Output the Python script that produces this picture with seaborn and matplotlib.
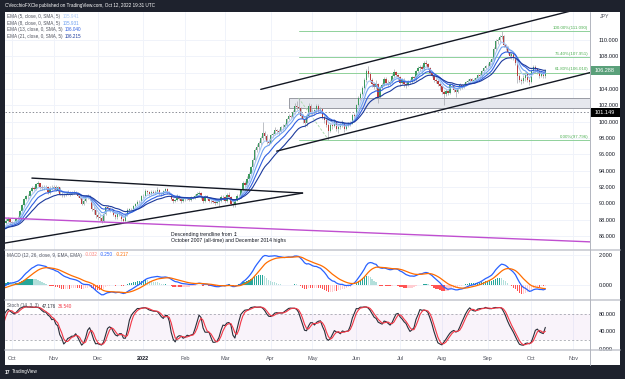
import numpy as np
import pandas as pd
import matplotlib
matplotlib.use("Agg")
import matplotlib.pyplot as plt
import matplotlib.transforms as mtransforms
from matplotlib.patches import Rectangle
from matplotlib.lines import Line2D
import seaborn as sns

# CAD/JPY daily bars (Sep 2021 is only there to warm up the indicators)
close_2021_09 = [87.35, 87.40, 87.55, 87.50, 87.05, 86.95, 86.70, 86.90, 87.00, 86.60, 86.60, 86.75, 86.45, 85.55, 85.70, 86.40, 86.95, 87.20, 87.65, 87.85, 88.05, 87.75]
high_2021_09 = [87.6, 87.6, 87.8, 87.7, 87.8, 87.2, 87.1, 87.2, 87.2, 87.2, 86.9, 87.0, 86.9, 86.5, 86.0, 86.6, 87.1, 87.4, 87.8, 88.2, 88.3, 88.2]
low_2021_09 = [87.0, 87.1, 87.2, 87.4, 86.9, 86.6, 86.5, 86.6, 86.7, 86.4, 86.3, 86.4, 86.3, 85.3, 85.4, 85.5, 86.2, 86.8, 87.1, 87.5, 87.7, 87.5]

close_2021_10 = [87.60, 87.75, 88.05, 88.25, 89.05, 89.75, 90.55, 90.85, 90.95, 91.55, 91.90, 91.80, 92.35, 92.45, 91.95, 91.85, 91.95, 92.05, 91.35, 91.90, 91.85]
high_2021_10 = [87.9, 87.9, 88.2, 88.5, 89.2, 89.9, 90.7, 91.0, 91.2, 91.7, 92.1, 92.1, 92.5, 92.7, 92.5, 92.2, 92.2, 92.3, 92.1, 92.1, 92.2]
low_2021_10 = [87.4, 87.3, 87.6, 87.9, 88.2, 89.0, 89.6, 90.4, 90.6, 90.9, 91.4, 91.6, 91.7, 92.1, 91.8, 91.6, 91.6, 91.8, 91.2, 91.2, 91.7]

close_2021_11 = [92.05, 91.60, 91.95, 91.15, 91.05, 91.00, 91.20, 91.35, 91.05, 91.30, 91.35, 91.30, 90.95, 90.65, 89.95, 90.35, 90.80, 90.85, 90.55, 89.30, 89.15, 88.55]
high_2021_11 = [92.3, 92.2, 92.1, 92.0, 91.5, 91.3, 91.4, 91.6, 91.5, 91.5, 91.6, 91.5, 91.4, 91.1, 90.8, 90.5, 91.0, 91.1, 91.0, 90.7, 89.8, 89.5]
low_2021_11 = [91.7, 91.5, 91.4, 91.0, 90.8, 90.8, 90.9, 91.0, 90.9, 91.0, 91.1, 91.1, 90.8, 90.5, 89.8, 89.8, 90.2, 90.6, 90.4, 89.1, 88.7, 88.2]

close_2021_12 = [88.35, 88.25, 87.85, 88.75, 89.55, 89.50, 89.05, 89.25, 88.55, 88.30, 88.85, 88.55, 88.05, 87.80, 88.55, 89.25, 89.35, 89.30, 89.65, 89.95, 90.15, 90.20, 90.90]
high_2021_12 = [89.0, 88.7, 88.5, 88.9, 89.7, 89.8, 89.6, 89.4, 89.3, 88.7, 89.0, 89.1, 88.6, 88.2, 88.7, 89.4, 89.5, 89.5, 89.8, 90.1, 90.4, 90.4, 91.0]
low_2021_12 = [88.0, 87.9, 87.6, 87.7, 88.6, 89.2, 88.9, 88.9, 88.4, 88.1, 88.1, 88.4, 87.9, 87.6, 87.7, 88.4, 89.1, 89.2, 89.2, 89.6, 89.8, 90.0, 90.1]

close_2022_01 = [90.95, 91.55, 91.35, 91.15, 91.40, 91.30, 91.35, 91.70, 91.10, 91.15, 91.50, 91.75, 91.35, 91.20, 90.55, 90.35, 90.40, 90.85, 90.55, 90.35, 90.55]
high_2022_01 = [91.2, 91.8, 91.7, 91.5, 91.6, 91.6, 91.6, 92.0, 91.8, 91.4, 91.6, 91.9, 91.9, 91.5, 91.3, 90.7, 90.6, 91.1, 91.0, 90.7, 90.7]
low_2022_01 = [90.7, 90.8, 91.2, 90.9, 91.0, 91.1, 91.1, 91.3, 91.0, 90.9, 91.0, 91.4, 91.2, 91.1, 90.4, 90.0, 90.2, 90.3, 90.4, 90.1, 90.2]

close_2022_02 = [90.65, 90.60, 90.45, 90.75, 90.70, 90.95, 91.20, 91.25, 90.75, 90.30, 90.85, 90.75, 90.30, 90.25, 90.20, 90.05, 90.20, 90.35, 90.80, 90.75]
high_2022_02 = [90.8, 90.8, 90.8, 90.9, 90.9, 91.1, 91.4, 91.5, 91.4, 90.8, 91.0, 91.0, 90.8, 90.5, 90.4, 90.5, 90.4, 90.6, 91.0, 91.0]
low_2022_02 = [90.3, 90.4, 90.3, 90.3, 90.5, 90.6, 90.8, 91.0, 90.6, 90.1, 90.2, 90.6, 90.2, 90.0, 90.0, 89.8, 89.9, 89.6, 90.2, 90.4]

close_2022_03 = [90.30, 91.05, 90.75, 89.95, 89.75, 90.35, 90.95, 90.85, 91.60, 92.55, 92.25, 93.05, 93.65, 94.45, 95.35, 96.55, 96.85, 97.35, 97.95, 98.65, 98.20, 97.55, 97.45]
high_2022_03 = [90.9, 91.3, 91.4, 90.9, 90.4, 90.6, 91.2, 91.2, 91.8, 92.8, 92.8, 93.3, 93.9, 94.6, 95.6, 96.8, 97.3, 97.6, 98.2, 100.0, 98.9, 98.5, 97.9]
low_2022_03 = [90.1, 90.2, 90.6, 89.8, 89.55, 89.6, 90.3, 90.6, 90.7, 91.5, 92.0, 92.1, 92.8, 93.5, 94.2, 95.1, 96.3, 96.6, 97.1, 97.8, 97.9, 97.3, 97.1]

close_2022_04 = [98.35, 98.55, 98.95, 98.85, 98.80, 99.30, 99.35, 99.65, 100.35, 100.65, 100.60, 101.15, 101.95, 101.75, 101.65, 100.75, 100.35, 99.85, 100.75, 101.95, 101.25]
high_2022_04 = [98.5, 98.8, 99.3, 99.1, 99.1, 99.5, 99.7, 99.9, 100.5, 100.9, 100.8, 101.4, 102.3, 102.5, 102.9, 101.8, 100.9, 100.6, 100.9, 102.3, 102.2]
low_2022_04 = [97.4, 98.1, 98.4, 98.5, 98.4, 98.7, 99.0, 99.2, 99.5, 100.2, 100.4, 100.5, 101.0, 101.4, 101.4, 100.5, 99.9, 99.3, 99.5, 100.6, 100.9]

close_2022_05 = [101.05, 101.45, 101.95, 101.35, 101.55, 100.55, 100.25, 99.55, 98.85, 99.55, 99.45, 100.05, 99.05, 99.35, 99.55, 99.90, 99.15, 99.45, 99.85, 99.70, 100.85, 100.65]
high_2022_05 = [101.6, 101.6, 102.2, 102.2, 101.8, 101.7, 100.8, 100.5, 99.8, 99.8, 99.9, 100.3, 100.1, 99.6, 99.9, 100.2, 99.9, 99.6, 100.0, 100.1, 101.0, 101.1]
low_2022_05 = [100.8, 100.8, 101.2, 101.1, 101.1, 100.3, 99.9, 99.3, 97.8, 98.8, 99.1, 99.3, 98.9, 98.6, 99.1, 99.4, 98.8, 99.0, 99.3, 99.5, 99.7, 100.4]

close_2022_06 = [102.05, 102.85, 103.45, 104.15, 105.05, 106.25, 105.85, 105.15, 104.65, 104.25, 104.65, 103.05, 104.15, 104.55, 105.25, 104.75, 104.65, 104.85, 105.55, 106.05, 105.75, 105.45]
high_2022_06 = [102.2, 103.1, 103.6, 104.4, 105.3, 106.5, 106.8, 106.1, 105.3, 104.9, 105.1, 104.8, 104.4, 104.8, 105.5, 105.5, 105.1, 105.1, 105.8, 106.4, 106.2, 105.9]
low_2022_06 = [100.5, 101.9, 102.7, 103.3, 104.0, 104.9, 105.5, 104.9, 104.2, 104.0, 104.0, 102.3, 102.9, 104.0, 104.4, 104.5, 104.3, 104.5, 104.7, 105.4, 105.5, 105.0]

close_2022_07 = [104.75, 105.15, 104.65, 104.55, 104.95, 104.85, 105.45, 105.35, 106.15, 106.55, 106.65, 106.45, 107.15, 107.05, 106.55, 105.95, 105.65, 105.05, 104.95, 104.65, 104.35]
high_2022_07 = [105.6, 105.3, 105.4, 104.9, 105.1, 105.2, 105.6, 105.6, 106.3, 106.8, 106.9, 106.9, 107.4, 107.5, 107.2, 106.7, 106.1, 105.8, 105.3, 105.2, 104.9]
low_2022_07 = [104.4, 104.6, 104.2, 104.1, 104.4, 104.6, 104.7, 105.0, 105.0, 105.8, 106.2, 106.2, 106.3, 106.8, 106.4, 105.8, 105.5, 104.9, 104.7, 104.4, 103.9]

close_2022_08 = [103.65, 103.45, 103.75, 103.55, 104.55, 104.45, 103.85, 103.65, 104.05, 104.45, 104.25, 104.55, 104.85, 104.95, 105.25, 104.95, 105.05, 105.35, 105.75, 105.65, 106.15, 106.55, 106.85]
high_2022_08 = [104.5, 103.9, 104.0, 103.9, 104.7, 104.8, 104.6, 104.0, 104.3, 104.7, 104.6, 104.7, 105.0, 105.2, 105.4, 105.3, 105.3, 105.5, 105.9, 106.0, 106.3, 106.7, 107.0]
low_2022_08 = [103.4, 102.0, 103.2, 103.3, 103.4, 104.2, 103.6, 103.0, 103.5, 103.9, 104.0, 104.1, 104.4, 104.7, 104.8, 104.7, 104.8, 104.9, 105.2, 105.3, 105.4, 106.0, 106.4]

close_2022_09 = [106.85, 107.25, 107.65, 108.85, 109.85, 109.95, 110.35, 110.55, 109.35, 109.15, 108.55, 108.05, 108.35, 107.85, 107.15, 105.55, 105.15, 104.95, 105.35, 105.85, 105.15, 104.85]
high_2022_09 = [107.2, 107.5, 107.8, 109.1, 110.1, 110.3, 110.6, 111.09, 110.6, 109.5, 109.3, 108.6, 108.5, 108.5, 107.9, 107.4, 105.9, 105.4, 105.7, 106.1, 106.0, 105.5]
low_2022_09 = [106.4, 106.7, 107.1, 107.5, 108.7, 109.5, 109.7, 110.1, 109.1, 108.8, 108.3, 107.8, 107.7, 107.6, 107.0, 104.7, 104.9, 104.6, 104.7, 105.0, 104.9, 104.5]

close_2022_10 = [106.15, 106.75, 106.45, 106.15, 105.65, 105.85, 105.55, 106.29]
high_2022_10 = [106.4, 107.0, 107.0, 106.6, 106.3, 106.2, 106.1, 106.5]
low_2022_10 = [104.7, 105.9, 106.0, 105.8, 105.4, 105.5, 105.3, 105.4]

first_open = 87.20
warmup_bars = 22          # September 2021 bars, left of the visible window

ema_periods = [5, 8, 13, 21]
ema_colors = ["#a9c8f5", "#6d9ff0", "#2f5fe0", "#1c3a9c"]
ema_labels = ["EMA (5, close, 0, SMA, 5)", "EMA (8, close, 0, SMA, 5)",
              "EMA (13, close, 0, SMA, 5)", "EMA (21, close, 0, SMA, 5)"]
ema_values = ["105.941", "105.931", "106.040", "106.215"]
macd_values = ["-0.032", "-0.250", "-0.217"]
stoch_values = ["47.176", "36.540"]

fib_pct = ["100.00%", "76.40%", "61.80%", "0.00%"]
fib_price = [111.090, 107.951, 106.010, 97.796]
fib_start = "2022-04-21"
fib_leg = [("2022-04-21", 102.9), ("2022-05-12", 97.8)]

triangle_top = [("2021-10-15", 93.10), ("2022-04-25", 91.27)]
triangle_bottom = [("2021-09-24", 85.09), ("2022-04-25", 91.27)]
descending_line = [("2021-09-24", 88.23), ("2022-11-18", 85.25)]
channel_top = [("2022-03-25", 103.96), ("2022-11-18", 114.43)]
channel_bottom = [("2022-04-06", 96.40), ("2022-11-18", 106.29)]
zone = ("2022-04-14", 101.70, 102.93)
key_level = 101.149
last_price = 106.288

month_labels = ["Oct", "Nov", "Dec", "2022", "Feb", "Mar", "Apr", "May",
                "Jun", "Jul", "Aug", "Sep", "Oct", "Nov"]

# ---- assemble bars ----
closes = np.array(close_2021_09 + close_2021_10 + close_2021_11 + close_2021_12 + close_2022_01
                  + close_2022_02 + close_2022_03 + close_2022_04 + close_2022_05 + close_2022_06
                  + close_2022_07 + close_2022_08 + close_2022_09 + close_2022_10)
highs = np.array(high_2021_09 + high_2021_10 + high_2021_11 + high_2021_12 + high_2022_01
                 + high_2022_02 + high_2022_03 + high_2022_04 + high_2022_05 + high_2022_06
                 + high_2022_07 + high_2022_08 + high_2022_09 + high_2022_10)
lows = np.array(low_2021_09 + low_2021_10 + low_2021_11 + low_2021_12 + low_2022_01
                + low_2022_02 + low_2022_03 + low_2022_04 + low_2022_05 + low_2022_06
                + low_2022_07 + low_2022_08 + low_2022_09 + low_2022_10)
opens = np.concatenate([[first_open], closes[:-1]])

days = pd.bdate_range("2021-09-01", "2022-11-30")
df = pd.DataFrame({"open": opens, "high": highs, "low": lows, "close": closes},
                  index=days[:len(closes)])
df["pos"] = np.arange(len(df)) - warmup_bars


def pos_of(day):
    return days.get_indexer([pd.Timestamp(day)])[0] - warmup_bars


for n in ema_periods:
    df[f"ema{n}"] = df["close"].ewm(span=n, adjust=False).mean()
macd = df["close"].ewm(span=12, adjust=False).mean() - df["close"].ewm(span=26, adjust=False).mean()
signal = macd.ewm(span=9, adjust=False).mean()
df["macd"], df["signal"], df["hist"] = macd, signal, macd - signal
hh = df["high"].rolling(14, min_periods=1).max()
ll = df["low"].rolling(14, min_periods=1).min()
df["k"] = (100 * (df["close"] - ll) / (hh - ll)).rolling(3, min_periods=1).mean()
df["d"] = df["k"].rolling(3, min_periods=1).mean()

vis = df[df["pos"] >= -5]

# ---- figure ----
sns.set_style("white")
plt.rcParams["font.family"] = ["Liberation Sans", "DejaVu Sans"]
W, H = 625, 379
fig = plt.figure(figsize=(W / 100, H / 100), dpi=100)
fig.patch.set_facecolor("#1e222d")
fig.add_artist(Rectangle((5 / W, 1 - 365 / H), 615 / W, 353 / H, transform=fig.transFigure,
                         facecolor="white", edgecolor="none", zorder=-10))


def panel(top, bottom):
    return fig.add_axes([5 / W, 1 - bottom / H, 585 / W, (bottom - top) / H])


ax_p = panel(12, 249.5)
ax_m = panel(250.5, 299.5)
ax_s = panel(300.5, 350)
xlim = (-3.52, 290.45)
month_pos = [days.get_indexer([d])[0] - warmup_bars
             for d in pd.date_range("2021-10-01", "2022-11-01", freq="MS").map(lambda m: days[days >= m][0])]

for ax in (ax_p, ax_m, ax_s):
    ax.set_facecolor("none")
    ax.set_xlim(*xlim)
    for s in ax.spines.values():
        s.set_visible(False)
    for mp in month_pos:
        ax.axvline(mp, color="#f0f3fa", lw=0.7, zorder=0)
    ax.yaxis.tick_right()
    ax.tick_params(axis="y", length=0, pad=6, labelsize=4, labelcolor="#131722")
    ax.tick_params(axis="x", length=0, labelbottom=False)
    ax.set_xlabel("")
    ax.set_ylabel("")

# price panel
ax_p.set_ylim(84.36, 113.43)
price_ticks = list(range(86, 111, 2))
for t in price_ticks:
    ax_p.axhline(t, color="#f0f3fa", lw=0.7, zorder=0)
ax_p.set_yticks(price_ticks)
# the 106 label sits under the last-price box, as on the reference
ax_p.set_yticklabels(["" if t == 106 else f"{t:.3f}" for t in price_ticks])

x_right = xlim[1]
ax_p.add_patch(Rectangle((pos_of(zone[0]), zone[1]), x_right - pos_of(zone[0]), zone[2] - zone[1],
                         facecolor="#e6e8ee", edgecolor="#8a8d96", lw=0.6, zorder=1))
ax_p.axhline(key_level, color="#8a8d96", lw=0.7, ls=(0, (1.5, 2)), zorder=1)

for lvl, pct in zip(fib_price, fib_pct):
    ax_p.plot([pos_of(fib_start), x_right], [lvl, lvl], color="#8fd19a", lw=0.7, zorder=1)
    ax_p.text(x_right - 1, lvl + 0.15, f"{pct}({lvl:.3f})", color="#4caf50", fontsize=3.2,
              ha="right", va="bottom", zorder=2)
ax_p.plot([pos_of(d) for d, _ in fib_leg], [p for _, p in fib_leg], color="#a5d6a7",
          lw=0.6, ls=(0, (3, 2)), zorder=1)

for line, col in [(triangle_top, "#131722"), (triangle_bottom, "#131722"),
                  (channel_top, "#131722"), (channel_bottom, "#131722"),
                  (descending_line, "#c04fd0")]:
    ax_p.plot([pos_of(d) for d, _ in line], [p for _, p in line], color=col, lw=1.0, zorder=4)

up = vis["close"] >= vis["open"]
ax_p.vlines(vis["pos"], vis["low"], vis["high"], color="#a3a6ae", lw=0.5, zorder=2)
ax_p.bar(vis["pos"], np.maximum((vis["close"] - vis["open"]).abs(), 0.03),
         bottom=np.minimum(vis["open"], vis["close"]), width=0.7,
         color=np.where(up, "#3c9a5f", "#b83b3b"), linewidth=0, zorder=3)

for n, col in zip(ema_periods, ema_colors):
    sns.lineplot(x=vis["pos"].values, y=vis[f"ema{n}"].values, ax=ax_p, color=col,
                 lw=0.8, legend=False, zorder=3.5)

ax_p.text(pos_of("2022-01-21"), 86.25, "Descending trendline from \u21a5", fontsize=3.7,
          color="#131722", ha="left", va="center", zorder=5)
ax_p.text(pos_of("2022-01-21"), 85.52, "October 2007 (all-time) and December 2014 highs",
          fontsize=3.7, color="#131722", ha="left", va="center", zorder=5)

blend = mtransforms.blended_transform_factory(ax_p.transAxes, ax_p.transData)
box_w = 30 / 585
for price, face in [(key_level, "#000000"), (last_price, "#5aa07a")]:
    ax_p.add_patch(Rectangle((1.0, price - 0.55), box_w, 1.1, transform=blend, facecolor=face,
                             edgecolor="none", clip_on=False, zorder=6))
    ax_p.text(1.0 + box_w / 2, price, f"{price:.3f}", transform=blend, color="white",
              fontsize=4, ha="center", va="center", clip_on=False, zorder=7)

# MACD panel
ax_m.set_ylim(-0.967, 2.30)
ax_m.set_yticks([0, 2])
ax_m.set_yticklabels(["0.000", "2.000"])
for t in (0, 2):
    ax_m.axhline(t, color="#f0f3fa", lw=0.7, zorder=0)
hist = vis["hist"].values
prev = df["hist"].shift(1).loc[vis.index].values
hist_colors = np.where(hist >= 0, np.where(hist > prev, "#26a69a", "#b2dfdb"),
                       np.where(hist > prev, "#ffcdd2", "#ff5252"))
ax_m.bar(vis["pos"], hist, width=0.7, color=hist_colors, linewidth=0, zorder=2)
sns.lineplot(x=vis["pos"].values, y=vis["macd"].values, ax=ax_m, color="#2962ff", lw=0.9,
             legend=False, zorder=3)
sns.lineplot(x=vis["pos"].values, y=vis["signal"].values, ax=ax_m, color="#ff6d00", lw=0.9,
             legend=False, zorder=3)

# Stochastic panel
ax_s.set_ylim(-3.0, 111.2)
ax_s.set_yticks([0, 40, 80])
ax_s.set_yticklabels(["0.000", "40.000", "80.000"])
ax_s.axhspan(20, 80, color="#9c27b0", alpha=0.05, lw=0, zorder=0)
for t in (20, 80):
    ax_s.axhline(t, color="#9598a1", lw=0.5, ls=(0, (3, 3)), zorder=1)
sns.lineplot(x=vis["pos"].values, y=vis["k"].values, ax=ax_s, color="#2a2e39", lw=0.8,
             legend=False, zorder=3)
sns.lineplot(x=vis["pos"].values, y=vis["d"].values, ax=ax_s, color="#f23645", lw=0.8,
             legend=False, zorder=3)

ax_s.set_xticks(month_pos)
ax_s.set_xticklabels(month_labels)
ax_s.tick_params(axis="x", labelbottom=True, labelsize=4, labelcolor="#50535e", pad=4)
for lab in ax_s.get_xticklabels():
    if lab.get_text() == "2022":
        lab.set_fontweight("bold")
        lab.set_color("#131722")

# separators
for y in (249.8, 300, 350.3):
    fig.add_artist(Line2D([5 / W, 620 / W], [1 - y / H, 1 - y / H], transform=fig.transFigure,
                          color="#c3c6ce", lw=1.1))
fig.add_artist(Line2D([590 / W, 590 / W], [1 - 12 / H, 1 - 365 / H], transform=fig.transFigure,
                      color="#b2b5be", lw=0.7))

# texts in the frame and legends
fig.text(5 / W, 1 - 6 / H, "CVecchioFXCle published on TradingView.com, Oct 12, 2022 19:31 UTC",
         color="white", fontsize=3.3, ha="left", va="center")
fig.text(5 / W, 1 - 372 / H, "17", color="white", fontsize=3.6, fontweight="bold",
         ha="left", va="center")
fig.text(12 / W, 1 - 372 / H, "TradingView", color="white", fontsize=3.3, ha="left", va="center")
fig.text(600 / W, 1 - 17 / H, "JPY", color="#50535e", fontsize=3.8, ha="left", va="center")

renderer = fig.canvas.get_renderer()


def legend_row(x_px, y_px, pieces, size=3.3):
    x = x_px
    for text, color in pieces:
        t = fig.text(x / W, 1 - y_px / H, text, color=color, fontsize=size, ha="left", va="center")
        x += t.get_window_extent(renderer).width + 2.5


for i, (lab, val, col) in enumerate(zip(ema_labels, ema_values, ema_colors)):
    legend_row(7, 16.5 + i * 6.7, [(lab, "#50535e"), (val, col)])
legend_row(7, 255, [("MACD (12, 26, close, 9, EMA, EMA)", "#50535e"), (macd_values[0], "#ff8a80"),
                    (macd_values[1], "#2962ff"), (macd_values[2], "#ff6d00")])
legend_row(7, 306, [("Stoch (14, 3, 3)", "#50535e"), (stoch_values[0], "#2a2e39"),
                    (stoch_values[1], "#f23645")])

fig.savefig("out.png", dpi=100, facecolor=fig.get_facecolor())
